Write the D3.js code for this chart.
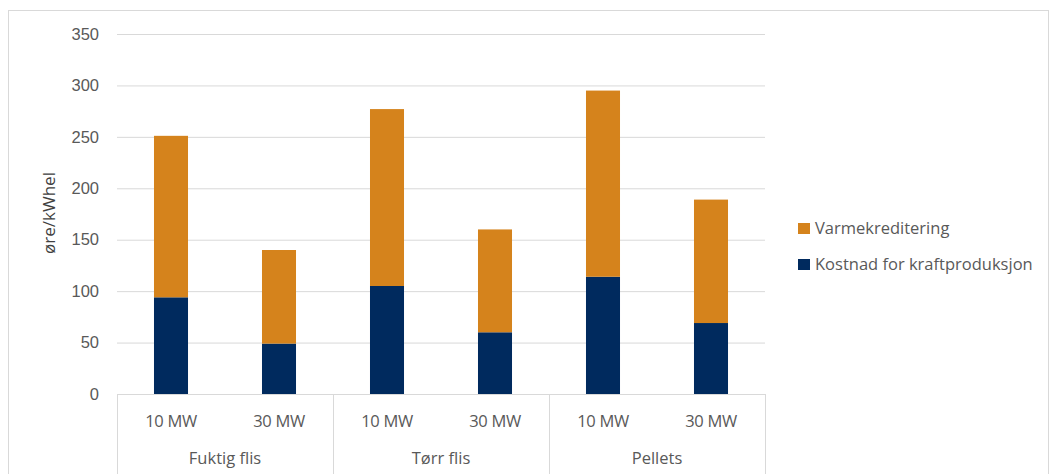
<!DOCTYPE html>
<html><head><meta charset="utf-8">
<script src="https://cdn.jsdelivr.net/npm/d3@7"></script>
<style>body{margin:0;background:#fff;} svg{display:block;font-family:"Open Sans","Liberation Sans",sans-serif;}</style>
</head><body>
<svg id="c" width="1055" height="474"></svg>
<script>
const groups = ["Fuktig flis", "Tørr flis", "Pellets"];
const sizes = ["10 MW", "30 MW"];
const cost = [94, 49, 105, 60, 114, 69];        // Kostnad for kraftproduksjon
const heat = [157, 91, 172, 100, 181, 120];     // Varmekreditering
const yTicks = [0, 50, 100, 150, 200, 250, 300, 350];
const seriesNames = ["Varmekreditering", "Kostnad for kraftproduksjon"];
const colors = {"Varmekreditering": "#D5831C", "Kostnad for kraftproduksjon": "#002A5E"};

const svg = d3.select("#c");
const m = {left: 117, right: 765, top: 34, bottom: 394};
const txt = "#595959", grid = "#D9D9D9";

svg.append("rect").attr("x", 8.5).attr("y", 10.5).attr("width", 1040).attr("height", 470)
  .attr("fill", "none").attr("stroke", "#D9D9D9");

const keys = [];
groups.forEach(g => sizes.forEach(s => keys.push(g + "|" + s)));
const data = keys.map((k, i) => ({key: k, cost: cost[i], heat: heat[i]}));

const x = d3.scaleBand().domain(keys).range([m.left, m.right]).paddingInner(0.685).paddingOuter(0.3425);
const y = d3.scaleLinear().domain([0, 350]).range([m.bottom, m.top]);

// gridlines
const ga = svg.append("g").attr("transform", `translate(${m.left},0)`)
  .call(d3.axisLeft(y).tickValues(yTicks).tickSize(-(m.right - m.left)).tickFormat(d3.format("d")).tickPadding(18));
ga.select(".domain").remove();
ga.selectAll(".tick line").attr("stroke", grid);
ga.selectAll(".tick text").attr("fill", txt).attr("font-size", 16.5);

const stack = d3.stack().keys(["cost", "heat"])(data);
const colorOf = {cost: colors["Kostnad for kraftproduksjon"], heat: colors["Varmekreditering"]};
svg.append("g").selectAll("g").data(stack).join("g").attr("fill", d => colorOf[d.key])
  .selectAll("rect").data(d => d).join("rect")
  .attr("x", d => x(d.data.key)).attr("width", x.bandwidth())
  .attr("y", d => y(d[1])).attr("height", d => y(d[0]) - y(d[1]));

// x axis line and category separators
svg.append("line").attr("x1", m.left).attr("x2", m.right).attr("y1", m.bottom + 0.5).attr("y2", m.bottom + 0.5).attr("stroke", grid);
const groupW = (m.right - m.left) / groups.length;
d3.range(groups.length + 1).forEach(i => {
  const xx = Math.round(m.left + i * groupW) + 0.5;
  svg.append("line").attr("x1", xx).attr("x2", xx).attr("y1", m.bottom).attr("y2", 474).attr("stroke", grid);
});
svg.append("g").selectAll("text").data(data).join("text")
  .attr("x", d => x(d.key) + x.bandwidth() / 2).attr("y", 427)
  .attr("text-anchor", "middle").attr("fill", txt).attr("font-size", 16.5).attr("letter-spacing", -0.3)
  .text(d => d.key.split("|")[1]);
svg.append("g").selectAll("text").data(groups).join("text")
  .attr("x", (d, i) => m.left + (i + 0.5) * groupW).attr("y", 464)
  .attr("text-anchor", "middle").attr("fill", txt).attr("font-size", 16.5)
  .text(d => d);

// y label
svg.append("text").attr("transform", "translate(55,213) rotate(-90)")
  .attr("text-anchor", "middle").attr("fill", "#404040").attr("font-size", 17).text("øre/kWhel");

// legend
const lg = svg.append("g");
seriesNames.forEach((n, i) => {
  const yy = 228 + i * 36;
  lg.append("rect").attr("x", 798).attr("y", yy - 5).attr("width", 12).attr("height", 11).attr("fill", colors[n]);
  lg.append("text").attr("x", 815).attr("y", yy).attr("dy", "0.35em").attr("fill", txt).attr("font-size", 16.5).text(n);
});
</script>
</body></html>
